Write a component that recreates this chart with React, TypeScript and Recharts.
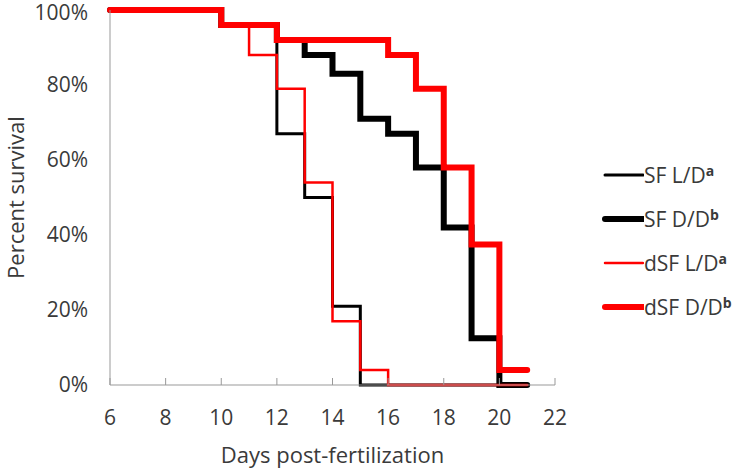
import { LineChart, Line, XAxis, YAxis, Label } from "recharts";

// Kaplan-Meier style survival (percent alive by day)
const sfLdDays = [6, 10, 12, 13, 14, 15, 21];
const sfLdPct = [100, 96, 67, 50, 21, 0, 0];

const sfDdDays = [6, 10, 12, 13, 14, 15, 16, 17, 18, 19, 20, 21];
const sfDdPct = [100, 96, 92, 88, 83, 71, 67, 58, 42, 12.5, 0, 0];

const dsfLdDays = [6, 10, 11, 12, 13, 14, 15, 16, 21];
const dsfLdPct = [100, 96, 88, 79, 54, 17, 4, 0, 0];

const dsfDdDays = [6, 10, 12, 16, 17, 18, 19, 20, 21];
const dsfDdPct = [100, 96, 92, 88, 79, 58, 37.5, 4, 4];

const xTicks = [6, 8, 10, 12, 14, 16, 18, 20, 22];
const yTicks = [0, 20, 40, 60, 80, 100];

const FONT = "'Open Sans', sans-serif";
const TEXT = "#3a3a3a";
const FS = 21;

type Pt = { day: number; pct: number };
const zip = (d: number[], p: number[]): Pt[] => d.map((day, i) => ({ day, pct: p[i] }));

const series = [
  { key: "sfLd", name: "SF L/D", sup: "a", color: "#000000", width: 3, data: zip(sfLdDays, sfLdPct) },
  { key: "sfDd", name: "SF D/D", sup: "b", color: "#000000", width: 6, data: zip(sfDdDays, sfDdPct) },
  { key: "dsfLd", name: "dSF L/D", sup: "a", color: "#ff0000", width: 2.5, data: zip(dsfLdDays, dsfLdPct) },
  { key: "dsfDd", name: "dSF D/D", sup: "b", color: "#ff0000", width: 6, data: zip(dsfDdDays, dsfDdPct) },
];

// legend sits outside the svg so it doesn't eat into the plot width
function LegendBox() {
  return (
    <div
      style={{ position: "absolute", left: 602, top: 153, fontFamily: FONT, fontSize: 21, color: TEXT, lineHeight: 1 }}
    >
      {series.map((s) => (
        <div key={s.key} style={{ display: "flex", alignItems: "center", height: 44 }}>
          <svg width={42} height={10}>
            <line x1={3} x2={41} y1={5} y2={5} stroke={s.color} strokeWidth={s.width} strokeLinecap="round" />
          </svg>
          <span style={{ whiteSpace: "nowrap" }}>
            {s.name}
            <sup style={{ fontWeight: 700, fontSize: 14, verticalAlign: "7px" }}>{s.sup}</sup>
          </span>
        </div>
      ))}
    </div>
  );
}

export default function App() {
  return (
    <div style={{ position: "absolute", left: 0, top: 0, width: 734, height: 469, background: "#fff" }}>
      <LineChart width={734} height={469} margin={{ top: 10, right: 179, bottom: 0, left: 0 }}>
        <XAxis
          type="number"
          dataKey="day"
          domain={[6, 22]}
          ticks={xTicks}
          allowDuplicatedCategory={false}
          height={84}
          stroke="#999"
          tickSize={-7}
          tickMargin={32}
          tick={{ fill: TEXT, fontSize: FS, fontFamily: FONT }}
        >
          <Label
            value="Days post-fertilization"
            position="insideBottom"
            offset={6}
            style={{ fill: TEXT, fontSize: 22, fontFamily: FONT }}
          />
        </XAxis>
        <YAxis
          type="number"
          dataKey="pct"
          domain={[0, 100]}
          ticks={yTicks}
          width={110}
          stroke="#999"
          tickLine={false}
          tickMargin={16}
          tickFormatter={(v) => `${v}%`}
          tick={{ fill: TEXT, fontSize: FS, fontFamily: FONT }}
        >
          <Label
            value="Percent survival"
            angle={-90}
            position="insideLeft"
            offset={16}
            style={{ fill: TEXT, fontSize: 22, fontFamily: FONT, textAnchor: "middle" }}
          />
        </YAxis>
        {series.map((s) => (
          <Line
            key={s.key}
            data={s.data}
            dataKey="pct"
            name={s.name}
            type="stepAfter"
            stroke={s.color}
            strokeWidth={s.width}
            strokeLinecap="round"
            dot={false}
            activeDot={false}
            isAnimationActive={false}
          />
        ))}
      </LineChart>
      <LegendBox />
    </div>
  );
}
